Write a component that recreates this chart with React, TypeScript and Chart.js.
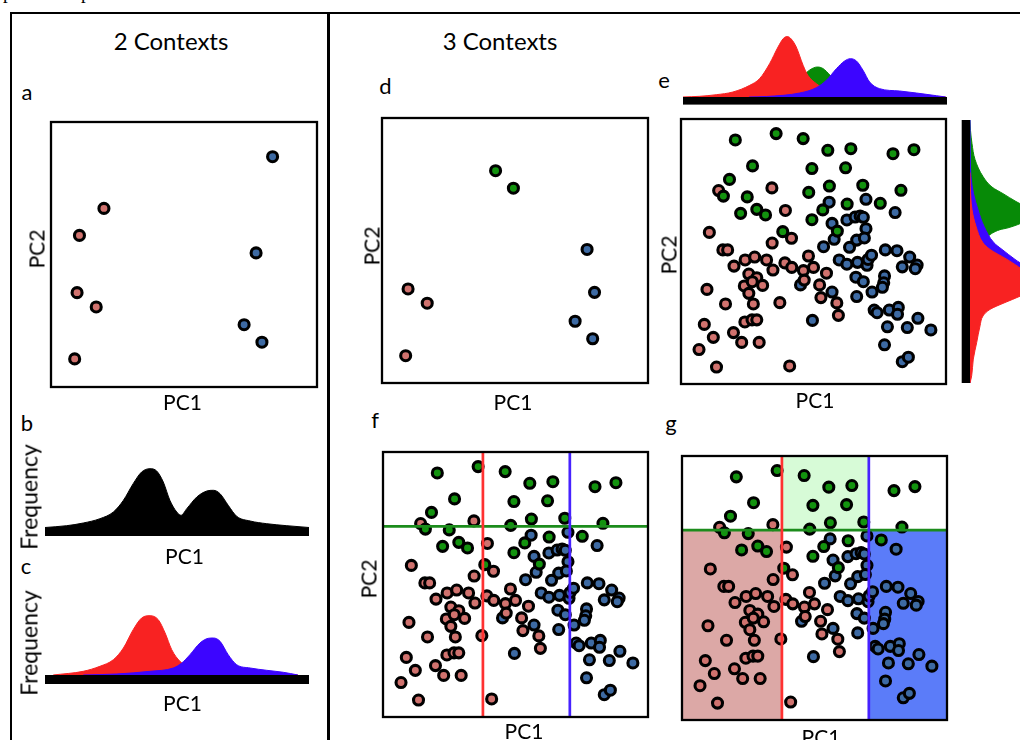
import React, { useEffect, useRef } from "react";
import { Chart, registerables } from "chart.js";

Chart.register(...registerables);

// ---------- scatter data (PC1 / PC2, 0–100 units) ----------
// panel a: two contexts, few samples
const aRedX = [19.9, 10.7, 9.8, 17.0, 8.9];
const aRedY = [67.4, 57.2, 35.6, 30.2, 10.6];
const aBlueX = [83.3, 77.1, 72.6, 79.3];
const aBlueY = [86.9, 50.6, 23.5, 16.9];

// panel d: three contexts, few samples
const dGreenX = [42.7, 49.4];
const dGreenY = [80.1, 73.5];
const dRedX = [9.8, 17.0, 8.9];
const dRedY = [35.5, 30.1, 10.3];
const dBlueX = [77.1, 79.9, 72.6, 79.2];
const dBlueY = [50.4, 34.2, 23.3, 16.7];

// panels e, f, g: three contexts, many samples
const cloudGreenX = [20.5, 35.9, 46.1, 55.4, 64.1, 80.0, 87.9, 27.0, 49.4, 62.1, 18.3, 16.0, 25.0, 48.2, 56.0, 68.6, 83.0, 62.7, 75.2, 22.5, 28.6, 31.9, 53.5, 49.4, 38.4, 59.0];
const cloudGreenY = [92.1, 94.5, 92.6, 88.2, 88.8, 86.9, 88.4, 82.3, 81.3, 81.6, 77.2, 70.9, 70.6, 72.3, 74.7, 75.0, 73.1, 67.9, 68.2, 64.4, 65.9, 63.8, 65.7, 62.0, 57.5, 57.7];
const cloudRedX = [14.2, 34.3, 39.4, 10.7, 34.4, 41.7, 15.8, 17.6, 48.1, 24.2, 27.8, 32.3, 20.0, 34.7, 39.2, 41.8, 46.2, 50.0, 25.6, 28.6, 46.5, 54.9, 23.9, 25.6, 30.8, 26.9, 9.8, 52.3, 16.8, 27.3, 37.3, 52.8, 58.8, 59.4, 24.1, 26.8, 28.6, 8.8, 19.8, 12.2, 22.9, 29.5, 6.8, 13.4, 41.0];
const cloudRedY = [73.0, 74.0, 65.5, 57.2, 53.2, 55.0, 50.6, 50.6, 48.3, 46.8, 47.9, 46.8, 44.5, 43.0, 45.7, 44.0, 42.8, 44.0, 41.5, 40.1, 39.2, 41.8, 37.0, 34.2, 37.2, 38.6, 35.7, 37.4, 30.2, 30.2, 30.7, 32.6, 30.6, 25.9, 23.4, 24.2, 24.2, 22.5, 19.4, 17.6, 15.7, 15.7, 13.0, 6.4, 6.8];
const cloudBlueX = [55.9, 69.8, 80.8, 57.0, 62.6, 65.7, 67.6, 68.8, 69.8, 57.8, 63.6, 66.3, 69.2, 53.8, 77.1, 81.5, 86.3, 89.1, 88.4, 83.5, 59.7, 62.6, 66.6, 70.2, 70.6, 71.9, 66.0, 68.8, 76.8, 76.5, 76.0, 72.1, 66.3, 57.0, 45.1, 49.6, 72.9, 74.0, 78.6, 82.0, 81.7, 89.4, 77.9, 85.4, 94.3, 76.8, 83.5, 85.8];
const cloudBlueY = [68.6, 69.7, 64.7, 60.6, 61.9, 63.0, 63.4, 62.9, 58.6, 54.6, 51.6, 54.3, 55.1, 51.8, 50.6, 50.3, 47.9, 44.9, 43.5, 44.2, 46.8, 45.2, 45.9, 44.8, 47.0, 48.6, 40.3, 38.6, 40.8, 38.2, 36.5, 34.7, 33.0, 34.7, 37.4, 24.0, 27.9, 26.9, 27.9, 28.9, 26.3, 24.8, 21.6, 21.3, 20.4, 14.8, 8.4, 10.1];

// decision thresholds for panels f and g
const splitPC1 = [37.7, 70.5]; // red | middle | blue
const splitPC2 = [71.9]; // green above

// ---------- density data (PC1 position 0–100, frequency) ----------
const bPos = [0, 8.2, 14.5, 20.8, 25.9, 29.7, 33.4, 36.6, 39.8, 42.3, 44.8, 47.3, 49.9, 51.5, 53.7, 57.5, 61.3, 63.8, 66.3, 69.4, 72.6, 77.7, 84.0, 91.6, 100];
const bFreq = [0.5, 2.3, 5, 9.3, 16, 27.7, 44.3, 56, 59.3, 57, 46, 27.7, 16, 12.7, 19.3, 31, 37, 37.7, 34.3, 22.7, 11.7, 7, 4.3, 2.3, 0.5];

const cRedPos = [3.1, 14.5, 20.8, 25.9, 29.7, 33.4, 36.6, 39.8, 42.9, 45.5, 48.0, 51.1, 54.9, 61.3, 71.3, 84.0, 95.8];
const cRedFreq = [0, 3.7, 8.7, 15.3, 27, 45.3, 57, 59.3, 55.3, 42, 25.3, 13.7, 7, 3.7, 1.5, 0.5, 0];
const cBluePos = [14.5, 27.1, 39.8, 48.6, 51.8, 54.9, 58.7, 61.9, 63.8, 66.3, 69.4, 72.6, 77.7, 84.0, 90.3, 95.8];
const cBlueFreq = [0, 1, 3.7, 7, 12, 20.3, 32, 36.7, 37, 33.7, 20.3, 10.3, 7, 4.7, 2.7, 0];

// marginal densities of panel e, along PC1 (top)
const eTopRedPos = [0, 6.3, 12.6, 18.9, 25.3, 29.0, 32.8, 36.0, 38.0, 39.5, 41.0, 42.9, 45.5, 47.3, 50.5, 54.3, 58.1, 63.1, 75.8, 88.4, 99.5];
const eTopRedFreq = [0, 0.7, 2.3, 5, 11.7, 18.3, 33.3, 50, 58.5, 60.5, 58, 50, 31.7, 21.7, 13.3, 7.3, 4.5, 3, 1.5, 0.5, 0];
const eTopGreenPos = [20, 31.6, 37.9, 44.2, 48.0, 50.9, 53.0, 55.6, 58.1, 63.1, 75.8, 90];
const eTopGreenFreq = [0, 2, 6, 18, 27, 30, 28.5, 22, 14, 5, 1, 0];
const eTopBluePos = [25, 31.6, 44.2, 50.5, 54.3, 58.1, 61.2, 63.4, 65.7, 68.2, 70.7, 74.5, 82.1, 88.4, 96.0, 99.5];
const eTopBlueFreq = [0, 0.5, 4, 9.3, 16.7, 28.3, 36, 38.3, 36, 26.7, 15, 8.3, 6, 4, 1.3, 0];

// marginal densities of panel e, along PC2 (right side)
const eSideGreenPos = [0, 15, 30, 40, 47, 52, 55.8, 58.3, 59, 61.5, 64, 66.5, 69, 72, 74.5, 78.5, 85, 91, 96, 100];
const eSideGreenFreq = [0, 1, 2, 3.5, 6, 10, 18, 30, 38, 55, 62, 58, 46, 33, 22, 13, 5, 2, 0.5, 0];
const eSideBluePos = [0, 10, 20, 30, 36, 40, 44.5, 47, 50.8, 53.3, 59.6, 65.9, 72, 78.5, 85, 100];
const eSideBlueFreq = [0, 1.5, 4, 18, 50, 58, 54, 45, 32, 24, 14, 8, 3.5, 1, 0.3, 0];
const eSideRedPos = [0, 2.8, 9.1, 15.4, 21.7, 25.5, 28, 30.6, 33, 36, 40, 43.2, 47, 50.8, 53.3, 59.6, 65.9, 74.7, 80];
const eSideRedFreq = [0, 1.7, 3.3, 6.7, 10, 13, 20, 35, 50, 65, 62, 52, 37, 20, 13, 6, 2, 0.3, 0];

// ---------- styling ----------
const FONT = "Lato, 'Open Sans', sans-serif";
const PAD = 12;
const DOT = { red: "#d0726e", blue: "#3d6aa3", green: "#13930f" };
const DENS = { red: "#f82222", blue: "#3c05ff", green: "#078a07", black: "#000000" };

const toPoints = (xs: number[], ys: number[]) => xs.map((x, i) => ({ x, y: ys[i] }));

type Group = { xs: number[]; ys: number[]; color: string };

function ChartCanvas(props: { left: number; top: number; width: number; height: number; make: () => any }) {
  const ref = useRef<HTMLCanvasElement | null>(null);
  useEffect(() => {
    if (!ref.current) return;
    const chart = new Chart(ref.current, props.make());
    return () => chart.destroy();
  }, []);
  return (
    <canvas
      ref={ref}
      width={props.width}
      height={props.height}
      style={{ position: "absolute", left: props.left, top: props.top, width: props.width, height: props.height }}
    />
  );
}

const framePlugin = {
  id: "frame",
  afterDraw(chart: any) {
    const { ctx, chartArea: a } = chart;
    ctx.save();
    ctx.strokeStyle = "#000";
    ctx.lineWidth = 2.3;
    ctx.strokeRect(a.left, a.top, a.right - a.left, a.bottom - a.top);
    ctx.restore();
  },
};

const quadrantPlugin = {
  id: "quadrants",
  beforeDatasetsDraw(chart: any) {
    const { ctx, scales } = chart;
    const sx = scales.x;
    const sy = scales.y;
    const region = (x0: number, x1: number, y0: number, y1: number, color: string) => {
      const px0 = sx.getPixelForValue(x0);
      const px1 = sx.getPixelForValue(x1);
      const py0 = sy.getPixelForValue(y0);
      const py1 = sy.getPixelForValue(y1);
      ctx.fillStyle = color;
      ctx.fillRect(px0, py1, px1 - px0, py0 - py1);
    };
    ctx.save();
    region(0, splitPC1[0], 0, splitPC2[0], "#dca8a6");
    region(splitPC1[0], splitPC1[1], splitPC2[0], 100, "#d7fbd7");
    region(splitPC1[1], 100, 0, splitPC2[0], "#5b7cf9");
    ctx.restore();
  },
};

function ScatterPanel(props: { x0: number; y0: number; x1: number; y1: number; groups: Group[]; splits?: boolean; shade?: boolean }) {
  const { x0, y0, x1, y1 } = props;
  const make = () => {
    const datasets: any[] = [];
    if (props.splits) {
      const line = (data: any[], color: string) => ({
        data,
        showLine: true,
        borderColor: color,
        borderWidth: 2.7,
        pointRadius: 0,
        fill: false,
      });
      datasets.push(line([{ x: splitPC1[0], y: 0 }, { x: splitPC1[0], y: 100 }], "#ff3131"));
      datasets.push(line([{ x: splitPC1[1], y: 0 }, { x: splitPC1[1], y: 100 }], "#4622ff"));
      datasets.push(line([{ x: 0, y: splitPC2[0] }, { x: 100, y: splitPC2[0] }], "#1c8c1c"));
    }
    props.groups.forEach((g) =>
      datasets.push({
        data: toPoints(g.xs, g.ys),
        backgroundColor: g.color,
        borderColor: "#000",
        borderWidth: 3.1,
        pointRadius: 5,
        clip: false,
      })
    );
    const plugins: any[] = [];
    if (props.shade) plugins.push(quadrantPlugin);
    plugins.push(framePlugin);
    return {
      type: "scatter",
      data: { datasets },
      options: {
        responsive: false,
        animation: false,
        devicePixelRatio: 1,
        events: [],
        layout: { padding: PAD },
        scales: {
          x: { type: "linear", min: 0, max: 100, display: false },
          y: { type: "linear", min: 0, max: 100, display: false },
        },
        plugins: { legend: { display: false }, tooltip: { enabled: false } },
      },
      plugins,
    };
  };
  return <ChartCanvas left={x0 - PAD} top={y0 - PAD} width={x1 - x0 + 2 * PAD} height={y1 - y0 + 2 * PAD} make={make} />;
}

type Series = { pos: number[]; freq: number[]; color: string };

// density curves on a thick black baseline; `vertical` puts the baseline on the left
function DensityPanel(props: {
  left: number;
  top: number;
  right: number;
  bottom: number;
  series: Series[];
  freqMax: number;
  bar: number;
  vertical?: boolean;
}) {
  const { left, top, right, bottom, bar, vertical } = props;
  const make = () => {
    const datasets = props.series.map((s) => ({
      data: s.pos.map((p, i) => (vertical ? { x: s.freq[i], y: p } : { x: p, y: s.freq[i] })),
      backgroundColor: s.color,
      borderColor: s.color,
      borderWidth: 1,
      pointRadius: 0,
      fill: "origin",
      cubicInterpolationMode: "monotone",
    }));
    const barPlugin = {
      id: "baseline",
      afterDraw(chart: any) {
        const { ctx, chartArea: a } = chart;
        ctx.save();
        ctx.fillStyle = "#000";
        if (vertical) ctx.fillRect(a.left - bar, a.top, bar, a.bottom - a.top);
        else ctx.fillRect(a.left, a.bottom, a.right - a.left, bar);
        ctx.restore();
      },
    };
    const posScale = { type: "linear", min: 0, max: 100, display: false };
    const freqScale = { type: "linear", min: 0, max: props.freqMax, display: false };
    return {
      type: "line",
      data: { datasets },
      options: {
        responsive: false,
        animation: false,
        devicePixelRatio: 1,
        events: [],
        indexAxis: vertical ? "y" : "x",
        layout: { padding: PAD },
        scales: vertical ? { x: freqScale, y: posScale } : { x: posScale, y: freqScale },
        plugins: { legend: { display: false }, tooltip: { enabled: false } },
      },
      plugins: [barPlugin],
    };
  };
  return (
    <ChartCanvas
      left={left - PAD}
      top={top - PAD}
      width={Math.round(right - left + 2 * PAD)}
      height={Math.round(bottom - top + 2 * PAD)}
      make={make}
    />
  );
}

function Label(props: { x: number; y: number; size: number; text: string; rotate?: boolean }) {
  return (
    <div
      style={{
        position: "absolute",
        left: props.x,
        top: props.y,
        transform: `translate(-50%, -50%)${props.rotate ? " rotate(-90deg)" : ""}`,
        fontSize: props.size,
        lineHeight: 1,
        whiteSpace: "nowrap",
        fontFamily: FONT,
        color: "#000",
      }}
    >
      {props.text}
    </div>
  );
}

function Rule(props: { left: number; top: number; width: number; height: number }) {
  return <div style={{ position: "absolute", background: "#000", ...props }} />;
}

export default function App() {
  const cloud: Group[] = [
    { xs: cloudGreenX, ys: cloudGreenY, color: DOT.green },
    { xs: cloudRedX, ys: cloudRedY, color: DOT.red },
    { xs: cloudBlueX, ys: cloudBlueY, color: DOT.blue },
  ];
  return (
    <div
      style={{
        position: "absolute",
        left: 0,
        top: 0,
        width: 1020,
        height: 740,
        overflow: "hidden",
        background: "#fff",
        fontFamily: FONT,
      }}
    >
      <span style={{ position: "absolute", left: 3, top: -16.7, fontFamily: "'Liberation Serif', serif", fontSize: 19, lineHeight: 1 }}>p</span>
      <span style={{ position: "absolute", left: 81, top: -16.7, fontFamily: "'Liberation Serif', serif", fontSize: 19, lineHeight: 1 }}>p</span>

      <Rule left={10} top={11.8} width={1010} height={2.4} />
      <Rule left={9.5} top={11.8} width={2.8} height={730} />
      <Rule left={326.8} top={11.8} width={2.8} height={730} />

      <Label x={171} y={41} size={24} text="2 Contexts" />
      <Label x={500} y={41} size={24} text="3 Contexts" />

      <Label x={27} y={92} size={22} text="a" />
      <Label x={27} y={423} size={22} text="b" />
      <Label x={26} y={566} size={22} text="c" />
      <Label x={385.5} y={85.5} size={22} text="d" />
      <Label x={664} y={79.5} size={22} text="e" />
      <Label x={375} y={420} size={22} text="f" />
      <Label x={671} y={423} size={22} text="g" />

      <ScatterPanel
        x0={51}
        y0={122}
        x1={317}
        y1={387}
        groups={[
          { xs: aRedX, ys: aRedY, color: DOT.red },
          { xs: aBlueX, ys: aBlueY, color: DOT.blue },
        ]}
      />
      <Label x={182.5} y={401} size={21} text="PC1" />
      <Label x={36} y={249} size={21} text="PC2" rotate />

      <DensityPanel left={45} top={466} right={309} bottom={528} bar={8} freqMax={62} series={[{ pos: bPos, freq: bFreq, color: DENS.black }]} />
      <Label x={29} y={497} size={23} text="Frequency" rotate />
      <Label x={184.5} y={555} size={21} text="PC1" />

      <DensityPanel
        left={45}
        top={613.3}
        right={309}
        bottom={675.3}
        bar={9}
        freqMax={62}
        series={[
          { pos: cBluePos, freq: cBlueFreq, color: DENS.blue },
          { pos: cRedPos, freq: cRedFreq, color: DENS.red },
        ]}
      />
      <Label x={29} y={643} size={23} text="Frequency" rotate />
      <Label x={182.5} y={701.5} size={21} text="PC1" />

      <ScatterPanel
        x0={382}
        y0={118}
        x1={648}
        y1={383}
        groups={[
          { xs: dGreenX, ys: dGreenY, color: DOT.green },
          { xs: dRedX, ys: dRedY, color: DOT.red },
          { xs: dBlueX, ys: dBlueY, color: DOT.blue },
        ]}
      />
      <Label x={513} y={400.5} size={21} text="PC1" />
      <Label x={371} y={246} size={21} text="PC2" rotate />

      <DensityPanel
        left={683.3}
        top={34.7}
        right={947.3}
        bottom={96.7}
        bar={7.6}
        freqMax={62}
        series={[
          { pos: eTopBluePos, freq: eTopBlueFreq, color: DENS.blue },
          { pos: eTopRedPos, freq: eTopRedFreq, color: DENS.red },
          { pos: eTopGreenPos, freq: eTopGreenFreq, color: DENS.green },
        ]}
      />
      <ScatterPanel x0={681} y0={119} x1={946} y1={384} groups={cloud} />
      <DensityPanel
        left={970}
        top={120}
        right={1040}
        bottom={383}
        bar={8.3}
        freqMax={70}
        vertical
        series={[
          { pos: eSideRedPos, freq: eSideRedFreq, color: DENS.red },
          { pos: eSideBluePos, freq: eSideBlueFreq, color: DENS.blue },
          { pos: eSideGreenPos, freq: eSideGreenFreq, color: DENS.green },
        ]}
      />
      <Label x={815} y={399} size={21} text="PC1" />
      <Label x={667.5} y={255} size={21} text="PC2" rotate />

      <ScatterPanel x0={383} y0={452} x1={648} y1={717} groups={cloud} splits />
      <Label x={524} y={730} size={21} text="PC1" />
      <Label x={368} y={579} size={21} text="PC2" rotate />

      <ScatterPanel x0={682} y0={456} x1={947} y1={720} groups={cloud} splits shade />
      <Label x={821} y={736} size={21} text="PC1" />
    </div>
  );
}
